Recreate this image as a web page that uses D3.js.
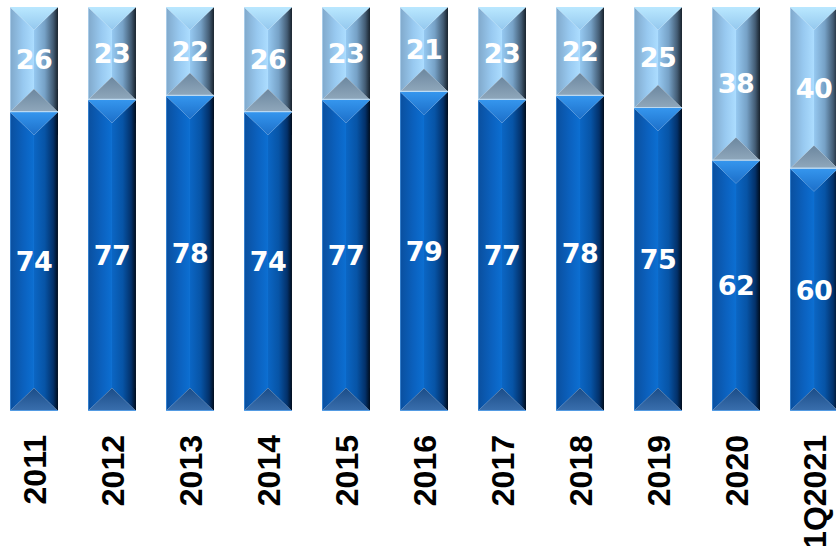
<!DOCTYPE html>
<html>
<head>
<meta charset="utf-8">
<script src="https://cdn.jsdelivr.net/npm/d3@7"></script>
<style>
  html, body { margin: 0; padding: 0; background: #ffffff; }
  svg { display: block; }
</style>
</head>
<body>
<svg id="chart" width="836" height="546"></svg>
<script>
// Share of each year split in two parts (percent, stacked to 100)
const categories = ["2011", "2012", "2013", "2014", "2015", "2016", "2017", "2018", "2019", "2020", "1Q2021"];
const lowerShare = [74, 77, 78, 74, 77, 79, 77, 78, 75, 62, 60];
const upperShare = [26, 23, 22, 26, 23, 21, 23, 22, 25, 38, 40];

const svg = d3.select("#chart");

const x = d3.scaleBand()
  .domain(categories)
  .range([10, 838])
  .paddingInner(0.385)
  .paddingOuter(0);

const y = d3.scaleLinear().domain([0, 100]).range([411, 7]);

// Bevel shading palettes for the two stack parts
const palettes = {
  dark: {
    top:    [["0%", "#1c6fc9"], ["100%", "#3596ee"]],
    left:   [["0%", "#0a4f9e"], ["60%", "#0b62c0"], ["100%", "#0c6fd2"]],
    right:  [["0%", "#0b66c4"], ["45%", "#0754a6"], ["80%", "#03316a"], ["100%", "#000c1c"]],
    bottom: [["0%", "#3a6fae"], ["100%", "#1b4d88"]],
    edge: "#5aa6f0"
  },
  light: {
    top:    [["0%", "#94c8ee"], ["100%", "#bae8ff"]],
    left:   [["0%", "#80a8ca"], ["55%", "#98c9f0"], ["100%", "#acddff"]],
    right:  [["0%", "#96c9f1"], ["45%", "#76a1c6"], ["80%", "#435c74"], ["100%", "#18222c"]],
    bottom: [["0%", "#90a8bc"], ["100%", "#6c879f"]],
    edge: "#c6e6ff"
  }
};

const defs = svg.append("defs");
Object.entries(palettes).forEach(([name, p]) => {
  [["top", 0, 1, 0, 0], ["bottom", 0, 1, 0, 0], ["left", 0, 0, 1, 0], ["right", 0, 0, 1, 0]]
    .forEach(([facet, x1, y1, x2, y2]) => {
      const g = defs.append("linearGradient")
        .attr("id", `g-${name}-${facet}`)
        .attr("x1", x1).attr("y1", y1).attr("x2", x2).attr("y2", y2);
      p[facet].forEach(([off, col]) => g.append("stop").attr("offset", off).attr("stop-color", col));
    });
});

// Build the stacked segments
const rows = categories.map((c, i) => ({ cat: c, lower: lowerShare[i], upper: upperShare[i] }));
const stack = d3.stack().keys(["lower", "upper"])(rows);

const segments = [];
stack.forEach(layer => {
  layer.forEach(d => {
    segments.push({
      key: layer.key,
      cat: d.data.cat,
      value: d.data[layer.key],
      y0: d[0],
      y1: d[1]
    });
  });
});

const bars = svg.append("g");

segments.forEach(s => {
  const pal = s.key === "lower" ? "dark" : "light";
  const x0 = x(s.cat), x1 = x0 + x.bandwidth(), xc = x0 + x.bandwidth() / 2;
  const yt = y(s.y1), yb = y(s.y0);
  const inset = Math.min(x.bandwidth() / 2 - 1, (yb - yt) / 2);
  const g = bars.append("g");
  const poly = pts => pts.map(p => p.join(",")).join(" ");

  g.append("polygon").attr("points", poly([[x0, yt], [xc, yt + inset], [xc, yb - inset], [x0, yb]]))
    .attr("fill", `url(#g-${pal}-left)`);
  g.append("polygon").attr("points", poly([[x1, yt], [xc, yt + inset], [xc, yb - inset], [x1, yb]]))
    .attr("fill", `url(#g-${pal}-right)`);
  g.append("polygon").attr("points", poly([[x0, yt], [x1, yt], [xc, yt + inset]]))
    .attr("fill", `url(#g-${pal}-top)`);
  g.append("polygon").attr("points", poly([[x0, yb], [x1, yb], [xc, yb - inset]]))
    .attr("fill", `url(#g-${pal}-bottom)`);
  // thin highlight along the left and bottom edges
  g.append("line").attr("x1", x0 + 0.5).attr("x2", x0 + 0.5).attr("y1", yt).attr("y2", yb)
    .attr("stroke", palettes[pal].edge).attr("stroke-opacity", 0.55).attr("stroke-width", 1);
  g.append("line").attr("x1", x0).attr("x2", x1).attr("y1", yb - 0.5).attr("y2", yb - 0.5)
    .attr("stroke", palettes[pal].edge).attr("stroke-opacity", 0.8).attr("stroke-width", 1.2);
});

// Value labels inside the segments
svg.append("g").selectAll("text")
  .data(segments)
  .join("text")
  .attr("x", d => x(d.cat) + x.bandwidth() / 2)
  .attr("y", d => y((d.y0 + d.y1) / 2))
  .attr("dy", "0.36em")
  .attr("text-anchor", "middle")
  .attr("font-family", "'DejaVu Sans', Verdana, sans-serif")
  .attr("font-weight", "bold")
  .attr("font-size", 27)
  .attr("letter-spacing", -0.5)
  .attr("fill", "#ffffff")
  .text(d => d.value);

// Category axis with rotated labels
const axis = svg.append("g")
  .attr("transform", `translate(0, ${y(0)})`)
  .call(d3.axisBottom(x).tickSize(0).tickPadding(0));
axis.select(".domain").remove();
axis.selectAll("text")
  .attr("transform", "rotate(-90)")
  .attr("x", -24)
  .attr("y", 0)
  .attr("dy", "0.36em")
  .attr("text-anchor", "end")
  .attr("font-family", "'Liberation Sans', Arial, sans-serif")
  .attr("font-weight", "bold")
  .attr("font-size", 32)
  .attr("fill", "#000000");
</script>
</body>
</html>
